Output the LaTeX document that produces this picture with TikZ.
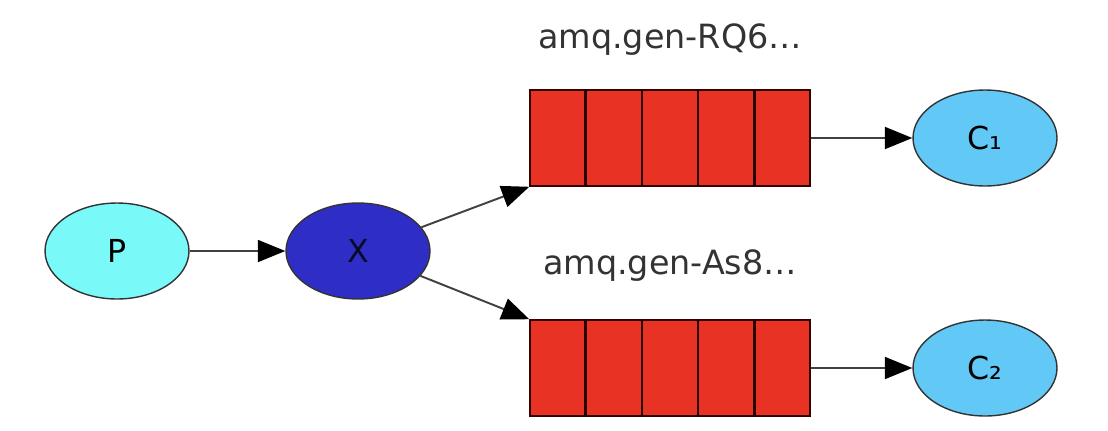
\documentclass[tikz,border=0pt]{standalone}
\usepackage{fontspec}
\setmainfont{DejaVu Sans}
\usepackage{xcolor}
\usepackage{tikz}
\usetikzlibrary{shapes.geometric, arrows.meta, positioning, calc}
\definecolor{prodcyan}{HTML}{7AF9F9}
\definecolor{exblue}{HTML}{2E2EC6}
\definecolor{queuered}{HTML}{E83224}
\definecolor{conblue}{HTML}{62C9F7}

\begin{document}
\begin{tikzpicture}[
    x=0.02cm,
    y=-0.02cm,
    font=\fontsize{18}{20}\selectfont,
    actor/.style={ellipse, draw=black!80, line width=0.8pt, minimum width=2.88cm, minimum height=1.92cm, inner sep=0pt},
    queue/.style={rectangle, draw=black!80!red, line width=0.9pt, fill=queuered, minimum width=5.6cm, minimum height=1.92cm, inner sep=0pt},
    qlabel/.style={font=\fontsize{19}{21}\selectfont, text=black!80},
    link/.style={-{Triangle[length=0.55cm, width=0.44cm, color=black]}, draw=black!75, line width=1.1pt}
]
    \useasboundingbox (0,0) rectangle (1108,430);

    % --- Producer and exchange ---
    \node[actor, fill=prodcyan] (P) at (117,251) {P};
    \node[actor, fill=exblue, text=black!80!exblue] (X) at (358,251) {X};

    % --- Queues ---
    \node[queue] (q1) at (670,138) {};
    \node[queue] (q2) at (670,368) {};
    \foreach \q in {q1,q2} {
        \foreach \i in {1,...,4} {
            \draw[black!85!red, line width=1.2pt] ($(\q.north west)!\i/5!(\q.north east)$) -- ($(\q.south west)!\i/5!(\q.south east)$);
        }
    }
    \node[qlabel] (l1) at (670,40) {amq.gen-RQ6…};
    \node[qlabel] (l2) at (670,266) {amq.gen-As8…};

    % --- Consumers ---
    \node[actor, fill=conblue] (c1) at (985,138) {C₁};
    \node[actor, fill=conblue] (c2) at (985,368) {C₂};

    % --- Bindings ---
    \draw[link] (P) -- (X);
    \draw[link] (X) -- (q1.south west);
    \draw[link] (X) -- (q2.north west);
    \draw[link] (q1.east) -- (c1.west);
    \draw[link] (q2.east) -- (c2.west);
\end{tikzpicture}
\end{document}
